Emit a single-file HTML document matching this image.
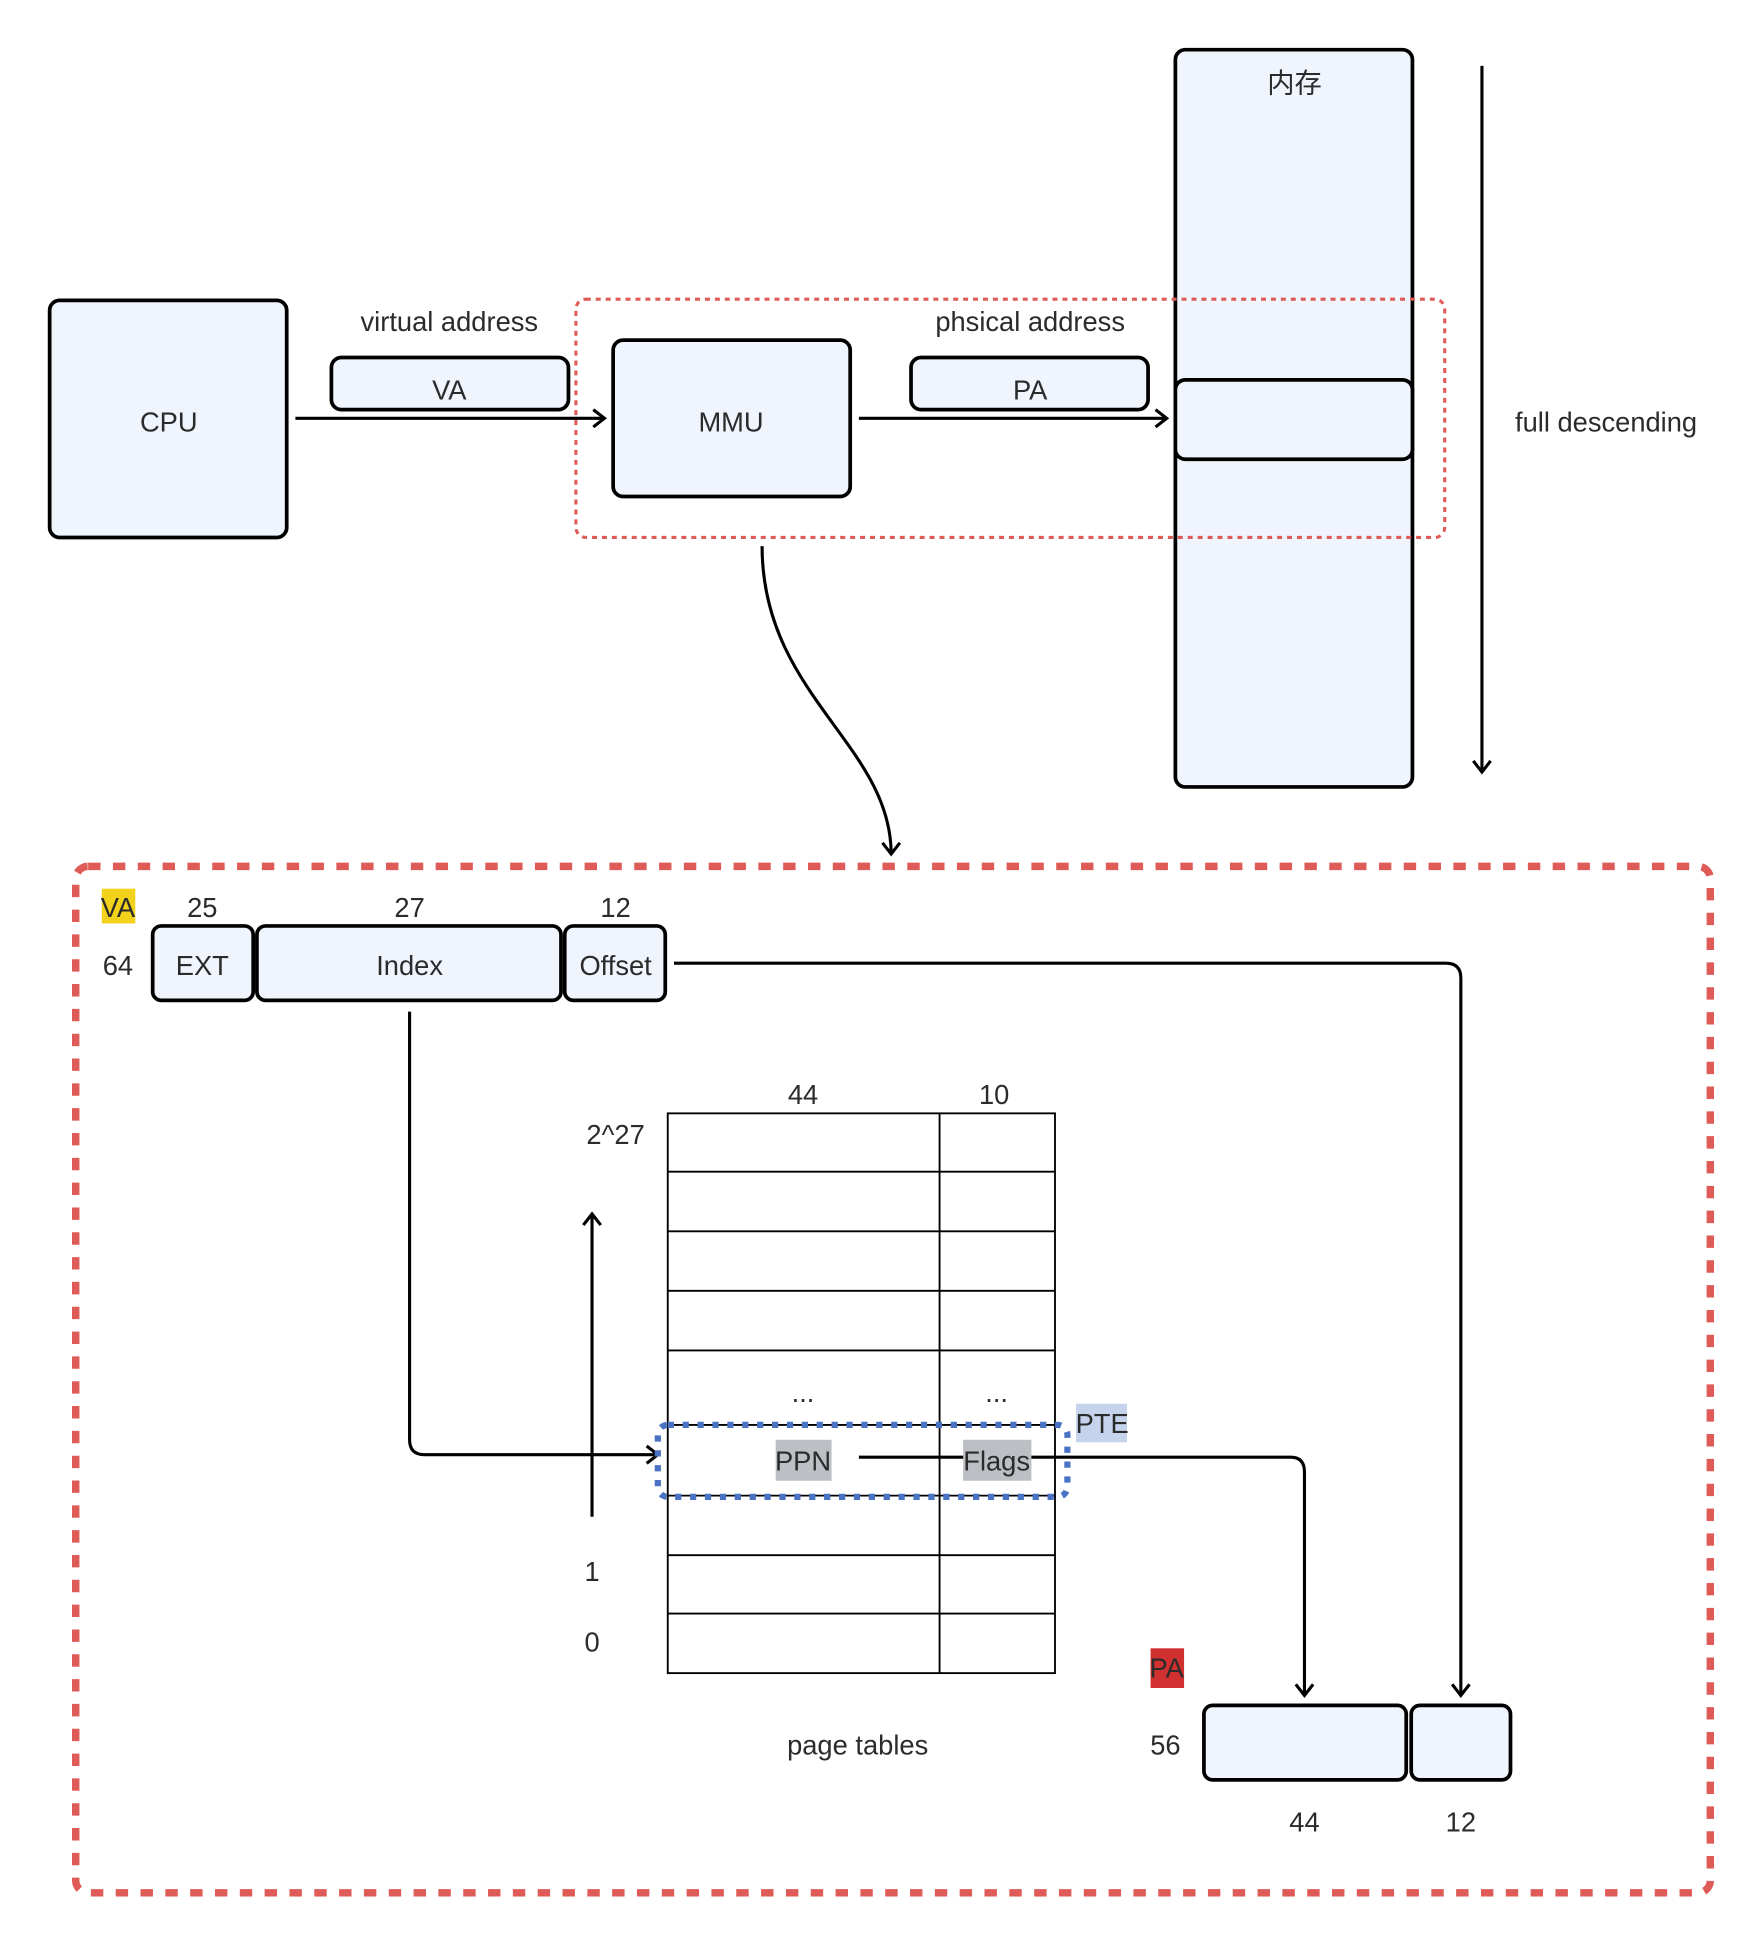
<!DOCTYPE html>
<html><head><meta charset="utf-8"><style>html,body{margin:0;padding:0;background:#fff}svg{display:block}text{font-family:"Liberation Sans","Noto Sans CJK SC",sans-serif;fill:#2b2b2b;font-size:22px;text-anchor:middle;dominant-baseline:central}</style></head><body>
<svg width="1755" height="1940" viewBox="0 0 1414 1563" xmlns="http://www.w3.org/2000/svg">
<defs><marker id="a" markerWidth="12" markerHeight="16" refX="10" refY="8" orient="auto" markerUnits="userSpaceOnUse"><path d="M1 1 L10 8 L1 15" fill="none" stroke="#000" stroke-width="2.5"/></marker></defs>
<g stroke="#000" stroke-width="3" fill="#eff4fd">
<rect x="40" y="242" width="191" height="191" rx="8"/>
<rect x="267" y="288" width="191" height="42" rx="8"/>
<rect x="494" y="274" width="191" height="126" rx="8"/>
<rect x="734" y="288" width="191" height="42" rx="8"/>
<rect x="947" y="40" width="191" height="594" rx="8"/>
<rect x="947" y="306" width="191" height="64" rx="8"/>
<rect x="123" y="746" width="81" height="60" rx="7"/>
<rect x="207" y="746" width="245" height="60" rx="7"/>
<rect x="455" y="746" width="81" height="60" rx="7"/>
<rect x="970" y="1374" width="163" height="60" rx="7"/>
<rect x="1137" y="1374" width="80" height="60" rx="7"/>
</g>
<rect x="464" y="241" width="700" height="192" rx="8" fill="none" stroke="#de5b57" stroke-width="2.5" stroke-dasharray="4 4"/>
<rect x="61" y="698" width="1317" height="827" rx="10" fill="none" stroke="#de5b57" stroke-width="6" stroke-dasharray="10 10"/>
<g stroke="#000" stroke-width="2.5" fill="none" marker-end="url(#a)">
<line x1="238" y1="337" x2="487" y2="337"/>
<line x1="692" y1="337" x2="940" y2="337"/>
<line x1="1194" y1="53" x2="1194" y2="622"/>
<path d="M614 440 C614 560 718 600 718 688"/>
<path d="M543 776 L1165 776 Q1177 776 1177 788 L1177 1366"/>
<path d="M330 815 L330 1160 Q330 1172 342 1172 L530 1172"/>
<line x1="477" y1="1222" x2="477" y2="978"/>
<path d="M692 1174 L1040 1174 Q1051 1174 1051 1186 L1051 1366"/>
</g>
<g stroke="#000" stroke-width="1.5" fill="none">
<rect x="538" y="897" width="312" height="451"/>
<line x1="757" y1="897" x2="757" y2="1348"/>
<path d="M538 944H850M538 992H850M538 1040H850M538 1088H850M538 1148H850M538 1205H850M538 1253H850M538 1300H850"/>
</g>
<rect x="82" y="716" width="27" height="28" fill="#f2d21b"/>
<rect x="867" y="1131" width="41" height="31" fill="#c5d3ec"/>
<rect x="625" y="1160" width="45" height="33" fill="#bcbfc4"/>
<rect x="776" y="1160" width="55" height="33" fill="#bcbfc4"/>
<rect x="927" y="1328" width="27" height="32" fill="#d03030"/>
<rect x="530" y="1148" width="330" height="58" rx="8" fill="none" stroke="#4a72c4" stroke-width="5" stroke-dasharray="5 7"/>
<g>
<text x="136" y="340">CPU</text>
<text x="362" y="259">virtual  address</text>
<text x="362" y="314">VA</text>
<text x="589" y="340">MMU</text>
<text x="830" y="259">phsical  address</text>
<text x="830" y="314">PA</text>
<text x="1043" y="67">内存</text>
<text x="1294" y="340">full descending</text>
<text x="95" y="731">VA</text>
<text x="163" y="731">25</text>
<text x="330" y="731">27</text>
<text x="496" y="731">12</text>
<text x="95" y="778">64</text>
<text x="163" y="778">EXT</text>
<text x="330" y="778">Index</text>
<text x="496" y="778">Offset</text>
<text x="647" y="882">44</text>
<text x="801" y="882">10</text>
<text x="496" y="914">2^27</text>
<text x="647" y="1122">...</text>
<text x="803" y="1122">...</text>
<text x="888" y="1147">PTE</text>
<text x="647" y="1177">PPN</text>
<text x="803" y="1177">Flags</text>
<text x="477" y="1266">1</text>
<text x="477" y="1323">0</text>
<text x="691" y="1406">page tables</text>
<text x="940" y="1344">PA</text>
<text x="939" y="1406">56</text>
<text x="1051" y="1468">44</text>
<text x="1177" y="1468">12</text>
</g>
</svg>
</body></html>
